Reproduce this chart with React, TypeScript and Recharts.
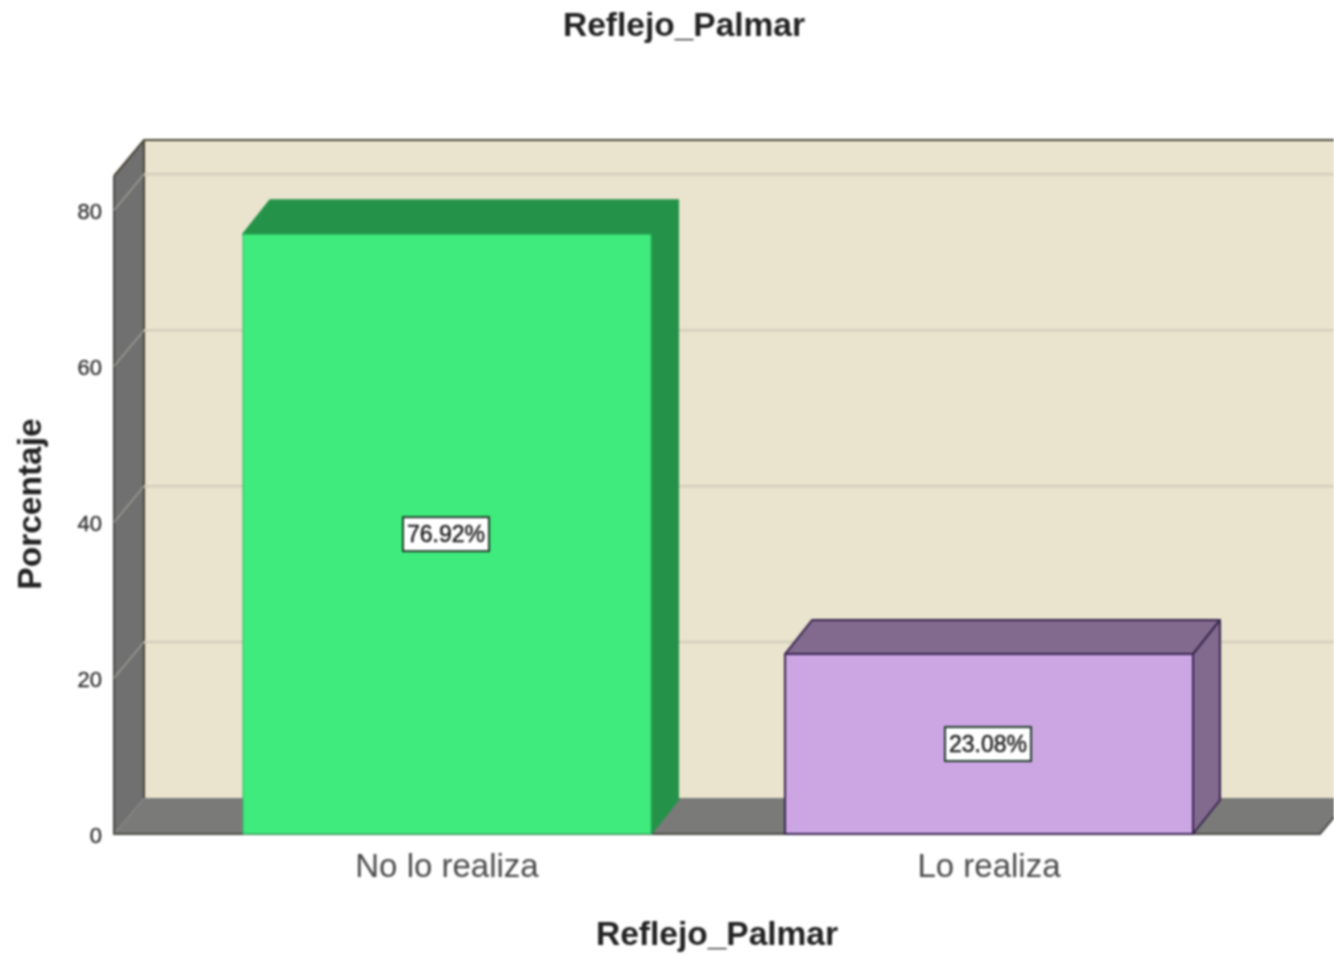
import { BarChart, Bar, XAxis, YAxis, ReferenceArea, LabelList } from "recharts";

const categories = ["No lo realiza", "Lo realiza"];
const percentages = [76.92, 23.08];
const yTicks = [0, 20, 40, 60, 80];

const chartData = categories.map((name, i) => ({ name, value: percentages[i] }));

const FONT = '"Liberation Sans", Arial, sans-serif';
const PAD_LEFT = 62;
const PAD_RIGHT = 60;
const DEPTH_X = 30;
const DEPTH_Y = 36;
const BAR_DEPTH_X = 27;
const BAR_DEPTH_Y = 34;

const frontColors = ["#40EB7D", "#CBA6E3"];
const sideColors = ["#249349", "#826A8E"];
const edgeColors = ["#2FB862", "#38264F"];

// back wall, side wall and floor of the 3D box. The area only spans the padded
// category bands, so widen it back out to the full plot first
const Box3D = ({ x: bandX, y, width: bandWidth, height }: any) => {
  const x = bandX - PAD_LEFT;
  const width = bandWidth + PAD_LEFT + PAD_RIGHT;
  const bottom = y + height;
  const right = x + width;
  return (
    <g>
      <rect x={x + DEPTH_X} y={y - DEPTH_Y} width={width} height={height} fill="#EAE4CE" />
      <path
        d={`M${x} ${y} L${x + DEPTH_X} ${y - DEPTH_Y} L${x + DEPTH_X} ${bottom - DEPTH_Y} L${x} ${bottom} Z`}
        fill="#707070"
      />
      <path
        d={`M${x} ${bottom} L${x + DEPTH_X} ${bottom - DEPTH_Y} L${right + DEPTH_X} ${bottom - DEPTH_Y} L${right} ${bottom} Z`}
        fill="#7A7A78"
      />
      <path
        d={`M${x} ${y} L${x + DEPTH_X} ${y - DEPTH_Y} L${right + DEPTH_X} ${y - DEPTH_Y} M${x + DEPTH_X} ${y - DEPTH_Y} L${x + DEPTH_X} ${bottom - DEPTH_Y}`}
        fill="none"
        stroke="#4A4638"
        strokeWidth={2}
      />
      <path
        d={`M${x} ${y} L${x} ${bottom} L${right} ${bottom} L${right + DEPTH_X} ${bottom - DEPTH_Y}`}
        fill="none"
        stroke="#4A4A48"
        strokeWidth={2}
      />
    </g>
  );
};

// gridline: short slant across the side wall, then along the back wall.
// Drawn as a zero height ReferenceArea because those stay behind the bars
const WallLine = ({ x: bandX, y, width: bandWidth }: any) => {
  const x = bandX - PAD_LEFT;
  const right = bandX + bandWidth + PAD_RIGHT;
  return (
    <g>
      <line x1={x} y1={y} x2={x + DEPTH_X} y2={y - DEPTH_Y} stroke="#9A9A94" strokeWidth={1.5} />
      <line x1={x + DEPTH_X} y1={y - DEPTH_Y} x2={right + DEPTH_X} y2={y - DEPTH_Y} stroke="#D3CDBB" strokeWidth={2.5} />
    </g>
  );
};

const Bar3D = ({ x, y, width, height, index }: any) => {
  const right = x + width;
  const bottom = y + height;
  const edge = edgeColors[index];
  const sideStroke = index === 0 ? sideColors[index] : edge;
  return (
    <g strokeLinejoin="round">
      <path
        d={`M${x} ${y} L${x + BAR_DEPTH_X} ${y - BAR_DEPTH_Y} L${right + BAR_DEPTH_X} ${y - BAR_DEPTH_Y} L${right} ${y} Z`}
        fill={sideColors[index]}
        stroke={sideStroke}
        strokeWidth={2}
      />
      <path
        d={`M${right} ${y} L${right + BAR_DEPTH_X} ${y - BAR_DEPTH_Y} L${right + BAR_DEPTH_X} ${bottom - BAR_DEPTH_Y} L${right} ${bottom} Z`}
        fill={sideColors[index]}
        stroke={sideStroke}
        strokeWidth={2}
      />
      <rect x={x} y={y} width={width} height={height} fill={frontColors[index]} stroke={edge} strokeWidth={index === 0 ? 1 : 2} />
    </g>
  );
};

const ValueBox = ({ x, y, width, height, value }: any) => {
  const cx = x + width / 2 - 1;
  const cy = y + height / 2;
  return (
    <g>
      <rect x={cx - 43} y={cy - 17} width={86} height={34} fill="#FFFFFF" stroke="#1F3A2A" strokeWidth={2} />
      <text x={cx} y={cy + 8} textAnchor="middle" fontFamily={FONT} fontSize={23} fill="#222" stroke="#222" strokeWidth={0.5} textLength={78} lengthAdjust="spacingAndGlyphs">
        {`${value.toFixed(2)}%`}
      </text>
    </g>
  );
};

export default function App() {
  return (
    <div style={{ position: "absolute", left: 0, top: 0, width: 1334, height: 956, overflow: "hidden", filter: "blur(0.8px)" }}>
      <BarChart width={1334} height={956} data={chartData} margin={{ top: 176, right: 14, bottom: 0, left: 44 }}>
        <ReferenceArea y1={0} y2={84.4} shape={Box3D} ifOverflow="visible" />
        {yTicks.slice(1).map((t) => (
          <ReferenceArea key={t} y1={t} y2={t} shape={WallLine} ifOverflow="visible" />
        ))}
        <XAxis
          dataKey="name"
          height={122}
          interval={0}
          padding={{ left: PAD_LEFT, right: PAD_RIGHT }}
          axisLine={false}
          tickLine={false}
          tick={{ fontFamily: FONT, fontSize: 33, fill: "#4A4A4A" }}
          tickMargin={14}
        />
        <YAxis
          width={70}
          domain={[0, 84.4]}
          ticks={yTicks}
          axisLine={false}
          tickLine={false}
          tick={{ fontFamily: FONT, fontSize: 22, fill: "#333", stroke: "#333", strokeWidth: 0.4, dy: 1 }}
          tickMargin={6}
        />
        <Bar dataKey="value" barSize={408} shape={Bar3D} isAnimationActive={false}>
          <LabelList dataKey="value" content={ValueBox} />
        </Bar>
        <text x={684} y={36} textAnchor="middle" fontFamily={FONT} fontWeight={700} fontSize={33.5} fill="#222">
          Reflejo_Palmar
        </text>
        <text x={717} y={945} textAnchor="middle" fontFamily={FONT} fontWeight={700} fontSize={33.5} fill="#222">
          Reflejo_Palmar
        </text>
        <text
          transform="translate(41 504) rotate(-90)"
          textAnchor="middle"
          fontFamily={FONT}
          fontWeight={700}
          fontSize={33.5}
          fill="#222"
        >
          Porcentaje
        </text>
      </BarChart>
    </div>
  );
}
